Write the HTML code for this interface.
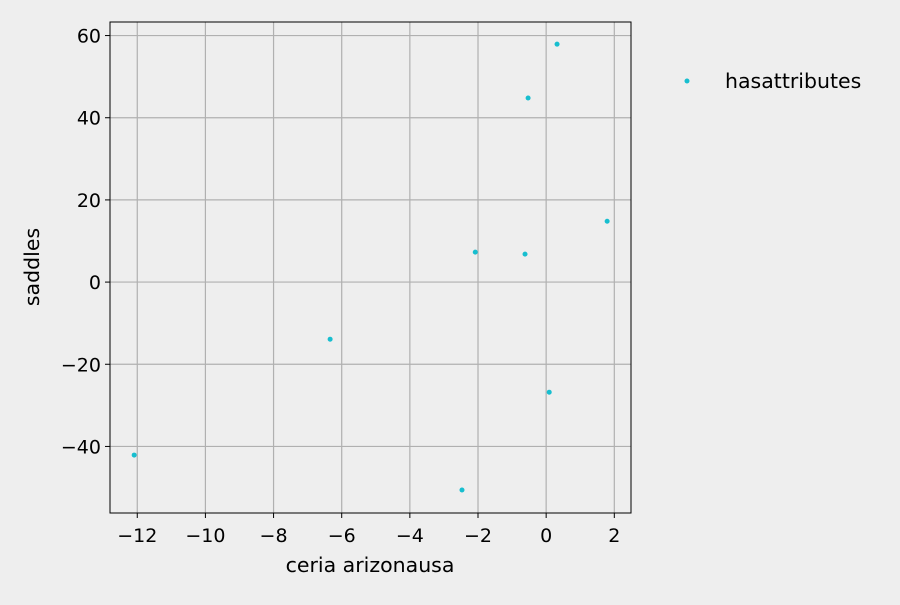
<!DOCTYPE html>
<html><head><meta charset="utf-8"><style>
html,body{margin:0;padding:0;background:#eeeeee;}
svg text{font-family:"DejaVu Sans","Liberation Sans",sans-serif;}
</style></head><body>
<svg id="chart" width="900" height="600" xmlns="http://www.w3.org/2000/svg">
<rect width="900" height="600" fill="#eeeeee"/>
<g id="grid"></g>
<g id="points"></g>
<rect x="110" y="22" width="521" height="491" fill="none" stroke="#000" stroke-width="1"/>
<g id="ticks"></g>
<text x="370" y="572" text-anchor="middle" font-size="20.5">ceria arizonausa</text>
<text transform="translate(39,267) rotate(-90)" text-anchor="middle" font-size="20.5">saddles</text>
<g>
<circle cx="687" cy="81" r="2.5" fill="#17becf"/>
<text x="725" y="88" font-size="20.5">hasattributes</text>
</g>
</svg>
<script>
const xValues = [0.32, -0.53, 1.79, -2.08, -0.62, -6.34, 0.09, -12.09, -2.47];
const yValues = [57.9, 44.8, 14.8, 7.3, 6.8, -13.9, -26.8, -42.1, -50.6];
const xTicks = [-12, -10, -8, -6, -4, -2, 0, 2];
const yTicks = [-40, -20, 0, 20, 40, 60];

const X0 = 110, X1 = 631, Y0 = 513, Y1 = 22;
const xMin = -12.8, xMax = 2.49, yMin = -56.2, yMax = 63.3;
function sx(v){ return X0 + (v - xMin) / (xMax - xMin) * (X1 - X0); }
function sy(v){ return Y0 - (v - yMin) / (yMax - yMin) * (Y0 - Y1); }
const NS = "http://www.w3.org/2000/svg";
function mk(tag, attrs, parent){ const e = document.createElementNS(NS, tag); for (const k in attrs) e.setAttribute(k, attrs[k]); parent.appendChild(e); return e; }
const grid = document.getElementById('grid'), ticks = document.getElementById('ticks'), pts = document.getElementById('points');
xTicks.forEach(t => {
  const x = sx(t);
  const g = mk('line', {x1:x, x2:x, y1:Y1, y2:Y0, stroke:'#b0b0b0', 'stroke-width':1.2}, grid);
  
  
  const l = mk('line', {x1:x, x2:x, y1:Y0, y2:Y0+5, stroke:'#000'}, ticks);
  
  
  const tx = mk('text', {x:x, y:Y0+29, 'text-anchor':'middle', 'font-size':19}, ticks);
  tx.textContent = t < 0 ? '\u2212' + Math.abs(t) : String(t);
  
  
});
yTicks.forEach(t => {
  const y = sy(t);
  const g = mk('line', {x1:X0, x2:X1, y1:y, y2:y, stroke:'#b0b0b0', 'stroke-width':1.2}, grid);
  
  
  const l = mk('line', {x1:X0-5, x2:X0, y1:y, y2:y, stroke:'#000'}, ticks);
  
  
  const tx = mk('text', {x:X0-9, y:y+7, 'text-anchor':'end', 'font-size':19}, ticks);
  tx.textContent = t < 0 ? '\u2212' + Math.abs(t) : String(t);
  
  
});
xValues.forEach((v, i) => {
  const c = mk('circle', {cx:sx(v), cy:sy(yValues[i]), r:2.5, fill:'#17becf'}, pts);
  
  
});
</script>
</body></html>
